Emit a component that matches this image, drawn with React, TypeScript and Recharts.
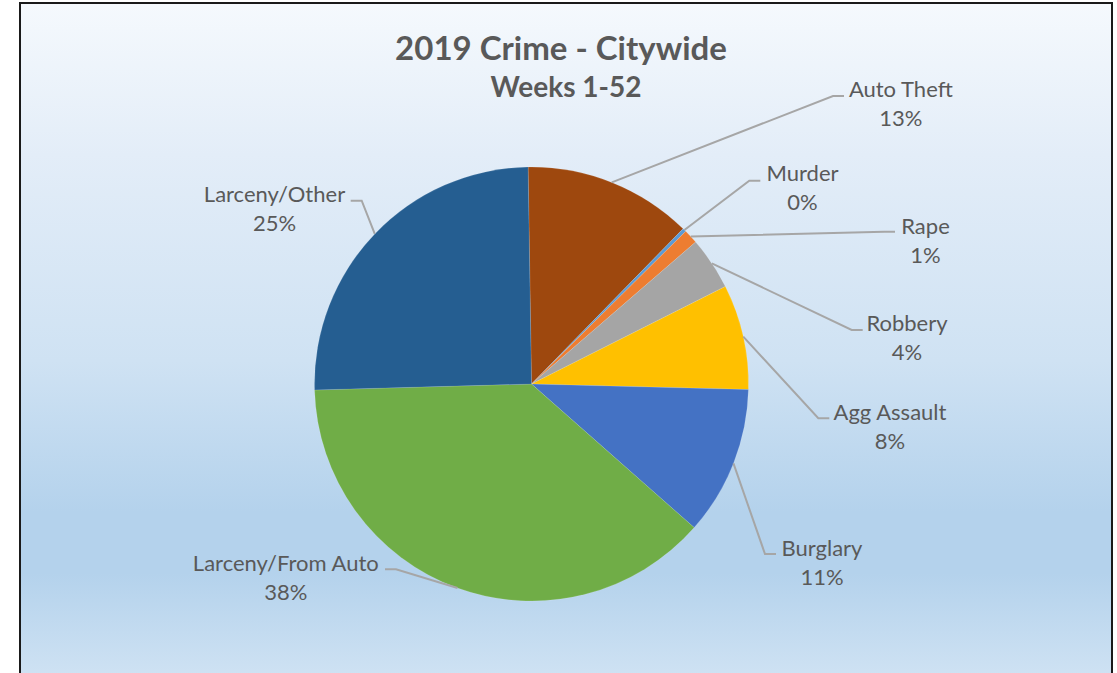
import React from 'react';
import { PieChart, Pie, Cell } from 'recharts';

// ---- data (shares of all reported crime) ----
const categories = [
  'Auto Theft',
  'Murder',
  'Rape',
  'Robbery',
  'Agg Assault',
  'Burglary',
  'Larceny/From Auto',
  'Larceny/Other',
];
const shares = [12.56, 0.27, 1.07, 3.93, 7.83, 11.1, 38.05, 25.19];
const sliceColors = [
  '#9e480e',
  '#5b9bd5',
  '#ed7d31',
  '#a5a5a5',
  '#ffc000',
  '#4472c4',
  '#70ad47',
  '#255e91',
];

const titleText = '2019 Crime - Citywide';
const subtitleText = 'Weeks 1-52';

// ---- label layout (offsets from the pie centre) ----
// elbow: where the leader line bends; side: +1 right, -1 left; label: centre of the two-line label
const labelElbow: [number, number][] = [
  [301.5, -288],
  [217.8, -203.3],
  [352.5, -152.3],
  [320.2, -54],
  [286.8, 34.3],
  [233.5, 170],
  [-135.5, 185.3],
  [-169.8, -183.3],
];
const labelSide = [1, 1, 1, 1, 1, 1, -1, -1];
const labelCenter: [number, number][] = [
  [369.3, -281],
  [271, -196.7],
  [394, -143.5],
  [375.5, -46.7],
  [358.5, 42.2],
  [290.5, 178.5],
  [-245.7, 193.5],
  [-257, -175.7],
];

const data = categories.map((name, i) => ({ name, value: shares[i] }));

const FONT = 'Lato, "Open Sans", "DejaVu Sans", sans-serif';
const TEXT_COLOR = '#595959';
const RADIAN = Math.PI / 180;

const renderLabel = (props: any) => {
  const { cx, cy, midAngle, outerRadius, percent, index, name } = props;
  const ax = cx + outerRadius * Math.cos(-midAngle * RADIAN);
  const ay = cy + outerRadius * Math.sin(-midAngle * RADIAN);
  const [ex, ey] = labelElbow[index];
  const side = labelSide[index];
  const bx = cx + ex;
  const by = cy + ey;
  const tx = bx + side * 11;
  const [lx, ly] = labelCenter[index];
  const x = cx + lx;
  const y = cy + ly;
  return (
    <g key={`lbl-${index}`}>
      <polyline
        points={`${ax},${ay} ${bx},${by} ${tx},${by}`}
        fill="none"
        stroke="#a6a6a6"
        strokeWidth={2}
      />
      <text
        x={x}
        y={y - 6.5}
        textAnchor="middle"
        fill={TEXT_COLOR}
        fontSize={22}
        fontFamily={FONT}
      >
        {name}
      </text>
      <text
        x={x}
        y={y + 22.5}
        textAnchor="middle"
        fill={TEXT_COLOR}
        fontSize={22}
        fontFamily={FONT}
      >
        {`${Math.round(percent * 100)}%`}
      </text>
    </g>
  );
};

export default function App() {
  return (
    <div
      style={{
        position: 'fixed',
        left: 0,
        top: 0,
        width: 1117,
        height: 673,
        overflow: 'hidden',
        background: '#ffffff',
      }}
    >
      <div
        style={{
          position: 'absolute',
          left: 19,
          top: 2,
          width: 1094,
          height: 690,
          boxSizing: 'border-box',
          border: '2px solid #1a1a1a',
          background:
            'linear-gradient(180deg, #f5f9fd 0%, #e3edf8 22%, #cfe2f3 52%, #b4d2ec 74%, #b4d2ec 83%, #d2e4f4 100%)',
        }}
      />
      <div
        style={{
          position: 'absolute',
          left: 0,
          top: 27,
          width: 1122,
          textAlign: 'center',
          fontFamily: FONT,
          fontWeight: 700,
          fontSize: 33,
          lineHeight: '40px',
          color: TEXT_COLOR,
        }}
      >
        {titleText}
      </div>
      <div
        style={{
          position: 'absolute',
          left: 0,
          top: 69,
          width: 1132,
          textAlign: 'center',
          fontFamily: FONT,
          fontWeight: 700,
          fontSize: 28,
          lineHeight: '34px',
          color: TEXT_COLOR,
        }}
      >
        {subtitleText}
      </div>
      <div style={{ position: 'absolute', left: 0, top: 0 }}>
        <PieChart width={1117} height={673} margin={{ top: 0, right: 0, bottom: 0, left: 0 }}>
          <Pie
            data={data}
            dataKey="value"
            nameKey="name"
            cx={531.5}
            cy={384}
            outerRadius={217}
            startAngle={90.9}
            endAngle={-269.1}
            label={renderLabel}
            labelLine={false}
            isAnimationActive={false}
            stroke="rgba(255,255,255,0.3)"
            strokeWidth={0.4}
          >
            {data.map((d, i) => (
              <Cell key={d.name} fill={sliceColors[i]} />
            ))}
          </Pie>
        </PieChart>
      </div>
    </div>
  );
}
